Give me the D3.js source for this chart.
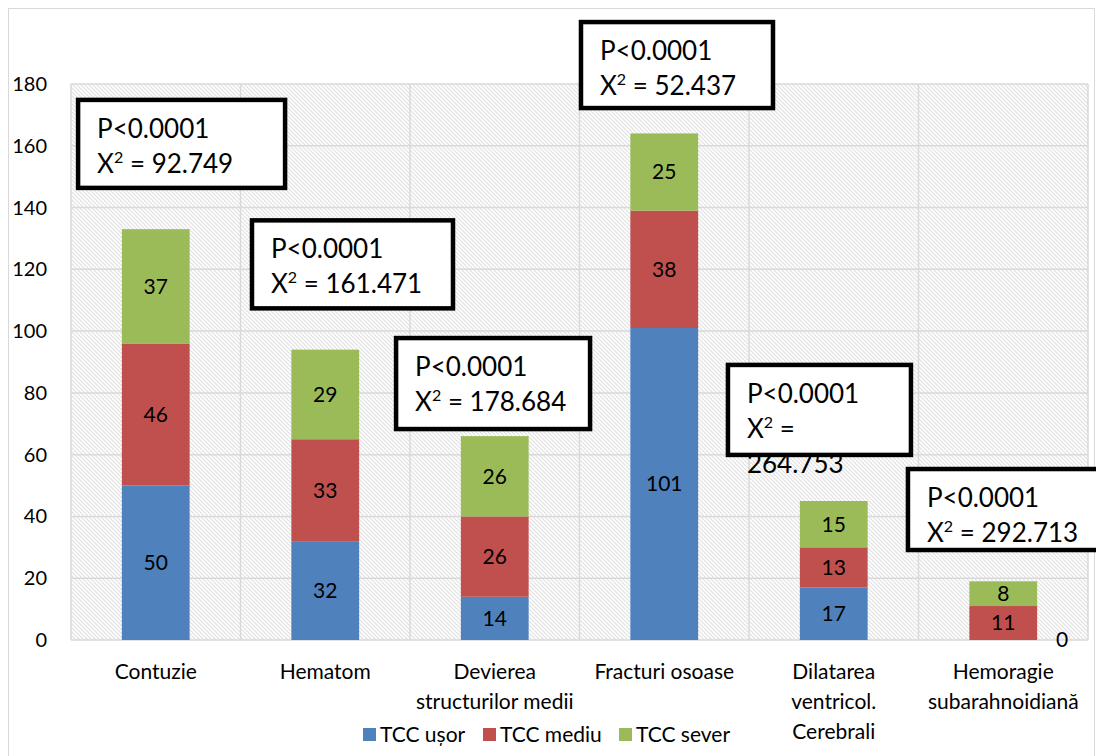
<!DOCTYPE html>
<html>
<head>
<meta charset="utf-8">
<script src="https://cdn.jsdelivr.net/npm/d3@7"></script>
<style>
  body { margin: 0; background: #fff; }
  svg { font-family: Lato, "Open Sans", sans-serif; }
</style>
</head>
<body>
<svg id="chart" width="1096" height="756"></svg>
<script>
const categories = [
  ["Contuzie"],
  ["Hematom"],
  ["Devierea", "structurilor medii"],
  ["Fracturi osoase"],
  ["Dilatarea", "ventricol.", "Cerebrali"],
  ["Hemoragie", "subarahnoidiană"],
];
const seriesNames = ["TCC ușor", "TCC mediu", "TCC sever"];
const tccUsor = [50, 32, 14, 101, 17, 0];
const tccMediu = [46, 33, 26, 38, 13, 11];
const tccSever = [37, 29, 26, 25, 15, 8];
const yTicks = [0, 20, 40, 60, 80, 100, 120, 140, 160, 180];
const pLabels = ["P<0.0001", "P<0.0001", "P<0.0001", "P<0.0001", "P<0.0001", "P<0.0001"];
const chiLabels = ["92.749", "161.471", "178.684", "52.437", "264.753", "292.713"];

const colors = ["#4f81bd", "#c0504d", "#9bbb59"];

// annotation boxes: left in band units, top in data units, size in px
const boxLayout = [
  { bx: 0.03, top: 175.5, w: 211, h: 92 },
  { bx: 1.056, top: 136.5, w: 205, h: 92 },
  { bx: 1.906, top: 98.4, w: 198, h: 95 },
  { bx: 2.997, top: 200.7, w: 196, h: 90 },
  { bx: 3.864, top: 89.7, w: 187, h: 94, wrap: true },
  { bx: 4.926, top: 56.0, w: 195, h: 85 },
];

const svg = d3.select("#chart");
const plotL = 71, plotR = 1088, plotT = 84, plotB = 640;

// outer chart border
svg.append("rect")
  .attr("x", 8.5).attr("y", 8.5)
  .attr("width", 1086).attr("height", 760)
  .attr("fill", "none").attr("stroke", "#d9d9d9");

const x = d3.scaleBand().domain(d3.range(categories.length)).range([plotL, plotR]).padding(0);
const y = d3.scaleLinear().domain([0, 180]).range([plotB, plotT]);
const barW = x.bandwidth() * 0.4;

// hatch pattern
const defs = svg.append("defs");
const pat = defs.append("pattern")
  .attr("id", "hatch")
  .attr("patternUnits", "userSpaceOnUse")
  .attr("width", 4).attr("height", 4);
pat.append("rect").attr("width", 4).attr("height", 4).attr("fill", "#fff");
pat.append("path")
  .attr("d", "M-1,-1 L5,5 M-1,3 L1,5 M3,-1 L5,1")
  .attr("stroke", "#e0e0e0").attr("stroke-width", 1.1);

svg.append("rect")
  .attr("x", plotL).attr("y", plotT)
  .attr("width", plotR - plotL).attr("height", plotB - plotT)
  .attr("fill", "url(#hatch)");

// grid
svg.append("g")
  .selectAll("line")
  .data(yTicks)
  .join("line")
  .attr("x1", plotL).attr("x2", plotR)
  .attr("y1", (d) => y(d)).attr("y2", (d) => y(d))
  .attr("stroke", "#d9d9d9").attr("stroke-width", 1.5);

svg.append("g")
  .selectAll("line")
  .data(d3.range(categories.length + 1))
  .join("line")
  .attr("x1", (d) => plotL + d * x.step()).attr("x2", (d) => plotL + d * x.step())
  .attr("y1", plotT).attr("y2", plotB)
  .attr("stroke", "#d9d9d9").attr("stroke-width", 1.5);

// y axis labels
svg.append("g")
  .selectAll("text")
  .data(yTicks)
  .join("text")
  .attr("x", 47)
  .attr("y", (d) => y(d))
  .attr("dy", "0.35em")
  .attr("text-anchor", "end")
  .attr("font-size", 20)
  .attr("fill", "#000")
  .text((d) => d);

// stacked bars
const table = categories.map((c, i) => ({ i, s0: tccUsor[i], s1: tccMediu[i], s2: tccSever[i] }));
const stack = d3.stack().keys(["s0", "s1", "s2"])(table);

const layers = svg.append("g")
  .selectAll("g")
  .data(stack)
  .join("g")
  .attr("fill", (d, k) => colors[k]);

layers.selectAll("rect")
  .data((d) => d)
  .join("rect")
  .attr("x", (d) => x(d.data.i) + (x.bandwidth() - barW) / 2)
  .attr("width", barW)
  .attr("y", (d) => y(d[1]))
  .attr("height", (d) => y(d[0]) - y(d[1]));

layers.selectAll("text")
  .data((d) => d)
  .join("text")
  .attr("x", (d) => {
    const cx = x(d.data.i) + x.bandwidth() / 2;
    return d[1] - d[0] === 0 ? cx + barW / 2 + 25 : cx;
  })
  .attr("y", (d) => (y(d[0]) + y(d[1])) / 2)
  .attr("dy", "0.35em")
  .attr("text-anchor", "middle")
  .attr("font-size", 21)
  .attr("fill", "#000")
  .text((d) => d[1] - d[0]);

// category labels
const catG = svg.append("g")
  .selectAll("text")
  .data(categories)
  .join("text")
  .attr("x", (d, i) => x(i) + x.bandwidth() / 2)
  .attr("y", 672)
  .attr("text-anchor", "middle")
  .attr("font-size", 21)
  .attr("fill", "#000");

catG.selectAll("tspan")
  .data((d) => d)
  .join("tspan")
  .attr("x", function () { return this.parentNode.getAttribute("x"); })
  .attr("dy", (d, j) => (j === 0 ? "0.35em" : "1.42em"))
  .text((d) => d);

// legend
const legendX = [363, 483, 619];
const legend = svg.append("g")
  .selectAll("g")
  .data(seriesNames)
  .join("g")
  .attr("transform", (d, i) => `translate(${legendX[i]},735)`);

legend.append("rect")
  .attr("x", 0).attr("y", -7)
  .attr("width", 13).attr("height", 13)
  .attr("fill", (d, i) => colors[i]);

legend.append("text")
  .attr("x", 17)
  .attr("dy", "0.35em")
  .attr("font-size", 21)
  .attr("fill", "#000")
  .text((d) => d);

// annotation boxes
const boxes = svg.append("g")
  .selectAll("g")
  .data(boxLayout)
  .join("g")
  .attr("transform", (d) => `translate(${plotL + d.bx * x.step()},${y(d.top)})`);

boxes.append("rect")
  .attr("x", 2).attr("y", 2)
  .attr("width", (d) => d.w - 4).attr("height", (d) => d.h - 4)
  .attr("fill", "#fff")
  .attr("stroke", "#000")
  .attr("stroke-width", 4.5);

boxes.append("text")
  .attr("x", 21).attr("y", 40)
  .attr("font-size", 26)
  .attr("fill", "#000")
  .text((d, i) => pLabels[i]);

const chiText = boxes.append("text")
  .attr("x", 21).attr("y", 75)
  .attr("font-size", 26)
  .attr("fill", "#000");

chiText.append("tspan").text("X");
chiText.append("tspan")
  .attr("font-size", 16)
  .attr("dy", -10)
  .text("2");
chiText.append("tspan")
  .attr("dy", 10)
  .text((d, i) => (d.wrap ? " =" : " = " + chiLabels[i]));
chiText.filter((d) => d.wrap)
  .append("tspan")
  .attr("x", 21)
  .attr("dy", 35)
  .text(chiLabels[4]);
</script>
</body>
</html>
